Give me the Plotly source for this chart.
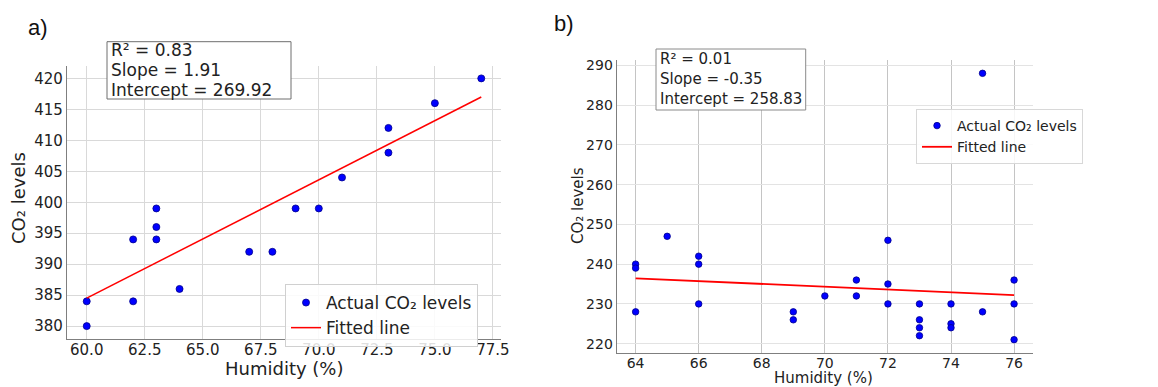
import plotly.graph_objects as go

# Panel a data
hum_a = [60, 60, 62, 62, 63, 63, 63, 64, 67, 68, 69, 70, 71, 73, 73, 75, 77]
co2_a = [380, 384, 384, 394, 394, 396, 399, 386, 392, 392, 399, 399, 404, 408, 412, 416, 420]
slope_a, intercept_a, r2_a = 1.91, 269.92, 0.83

# Panel b data
hum_b = [64, 64, 64, 65, 66, 66, 66, 69, 69, 70, 71, 71, 72, 72, 72, 73, 73, 73, 73,
         74, 74, 74, 75, 75, 76, 76, 76]
co2_b = [240, 239, 228, 247, 242, 240, 230, 228, 226, 232, 236, 232, 246, 235, 230,
         230, 226, 224, 222, 230, 225, 224, 228, 288, 236, 230, 221]
slope_b, intercept_b, r2_b = -0.35, 258.83, 0.01

xticks_a = [60.0, 62.5, 65.0, 67.5, 70.0, 72.5, 75.0, 77.5]
yticks_a = [380, 385, 390, 395, 400, 405, 410, 415, 420]
xticks_b = [64, 66, 68, 70, 72, 74, 76]
yticks_b = [220, 230, 240, 250, 260, 270, 280, 290]

# page body has an 8px default margin; size the figure so it fits the window
OFF = 8
W, H = 1158 - OFF, 387 - OFF
FONT = "DejaVu Sans"

def px(x):
    return (x - OFF) / W

def py(y):
    return 1 - (y - OFF) / H

def fit(xs, m, c):
    lo, hi = min(xs), max(xs)
    return [lo, hi], [m * lo + c, m * hi + c]

fig = go.Figure()

fx, fy = fit(hum_a, slope_a, intercept_a)
fig.add_trace(go.Scatter(x=hum_a, y=co2_a, mode="markers", name="Actual CO₂ levels",
                         marker=dict(color="#0000ff", size=7, line=dict(color="#00008b", width=0.8)),
                         xaxis="x", yaxis="y", legend="legend"))
fig.add_trace(go.Scatter(x=fx, y=fy, mode="lines", name="Fitted line",
                         line=dict(color="red", width=1.5), xaxis="x", yaxis="y", legend="legend"))

fx, fy = fit(hum_b, slope_b, intercept_b)
fig.add_trace(go.Scatter(x=hum_b, y=co2_b, mode="markers", name="Actual CO₂ levels",
                         marker=dict(color="#0000ff", size=6.5, line=dict(color="#00008b", width=0.8)),
                         xaxis="x2", yaxis="y2", legend="legend2"))
fig.add_trace(go.Scatter(x=fx, y=fy, mode="lines", name="Fitted line",
                         line=dict(color="red", width=1.8), xaxis="x2", yaxis="y2", legend="legend2"))

def ax(domain, rng, ticks, fs, gridcolor, anchor, standoff, fmt=None):
    d = dict(domain=domain, range=rng, tickvals=ticks, showgrid=True, gridcolor=gridcolor,
             gridwidth=1, showline=True, linecolor="#7f7f7f", linewidth=1.2, mirror=False,
             ticks="", zeroline=False, automargin=False, ticklabelstandoff=standoff,
             tickfont=dict(family=FONT, size=fs, color="#222"), anchor=anchor)
    if fmt:
        d["tickformat"] = fmt
    return d

fig.update_layout(
    width=W, height=H, margin=dict(l=0, r=0, t=0, b=0),
    plot_bgcolor="white", paper_bgcolor="white", showlegend=True,
    xaxis=ax([px(67), px(501)], [59.15, 77.85], xticks_a, 15, "#d9d9d9", "y", -3, ".1f"),
    yaxis=ax([py(338.5), py(66)], [378, 422], yticks_a, 15, "#d9d9d9", "x", 0),
    xaxis2=ax([px(616.7), px(1033)], [63.4, 76.6], xticks_b, 14, "#c4c4c4", "y2", -3),
    yaxis2=ax([py(353), py(60)], [217.65, 291.35], yticks_b, 14, "#e3e3e3", "x2", 0),
    legend=dict(x=px(285), y=py(284), xanchor="left", yanchor="top",
                bgcolor="rgba(255,255,255,0.85)", bordercolor="#d0d0d0", borderwidth=1,
                font=dict(family=FONT, size=17, color="#222"), tracegroupgap=0),
    legend2=dict(x=px(916), y=py(109), xanchor="left", yanchor="top",
                 bgcolor="rgba(255,255,255,0.85)", bordercolor="#d8d8d8", borderwidth=1,
                 font=dict(family=FONT, size=14, color="#222"), tracegroupgap=0),
)

def textbox(x0, y0, x1, y1, lines, ys, fs, border):
    fig.add_shape(type="rect", xref="paper", yref="paper", x0=px(x0), x1=px(x1), y0=py(y1), y1=py(y0),
                  line=dict(color=border, width=1), fillcolor="white", layer="above")
    for t, yy in zip(lines, ys):
        fig.add_annotation(text=t, xref="paper", yref="paper", x=px(x0 + 2), y=py(yy),
                           xanchor="left", yanchor="middle", showarrow=False, align="left",
                           font=dict(family=FONT, size=fs, color="#222"))

textbox(107, 41.7, 291, 99,
        [f"R² = {r2_a:.2f}", f"Slope = {slope_a:.2f}", f"Intercept = {intercept_a:.2f}"],
        [50, 70, 90], 17, "#6e6e6e")
textbox(656, 49, 805.7, 110,
        [f"R² = {r2_b:.2f}", f"Slope = {slope_b:.2f}", f"Intercept = {intercept_b:.2f}"],
        [59, 79, 99], 15, "#8a8a8a")

# axis titles
fig.add_annotation(text="Humidity (%)", xref="paper", yref="paper", x=px(284), y=py(368),
                   xanchor="center", yanchor="middle", showarrow=False,
                   font=dict(family=FONT, size=18, color="#222"))
fig.add_annotation(text="CO₂ levels", xref="paper", yref="paper", x=px(18), y=py(198),
                   xanchor="center", yanchor="middle", showarrow=False, textangle=-90,
                   font=dict(family=FONT, size=18, color="#222"))
fig.add_annotation(text="Humidity (%)", xref="paper", yref="paper", x=px(824), y=py(389),
                   xanchor="center", yanchor="bottom", showarrow=False,
                   font=dict(family=FONT, size=15, color="#222"))
fig.add_annotation(text="CO₂ levels", xref="paper", yref="paper", x=px(578), y=py(206),
                   xanchor="center", yanchor="middle", showarrow=False, textangle=-90,
                   font=dict(family=FONT, size=15, color="#222"))

fig.add_annotation(text="a)", xref="paper", yref="paper", x=px(26), y=py(27.5),
                   xanchor="left", yanchor="middle", showarrow=False,
                   font=dict(family="Liberation Sans", size=22, color="#111"))
fig.add_annotation(text="b)", xref="paper", yref="paper", x=px(552), y=py(23),
                   xanchor="left", yanchor="middle", showarrow=False,
                   font=dict(family="Liberation Sans", size=22, color="#111"))

fig.write_html("out.html")
